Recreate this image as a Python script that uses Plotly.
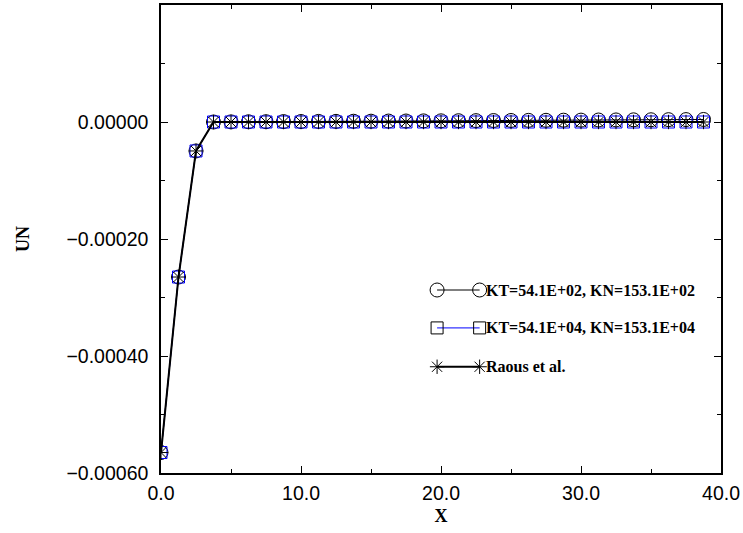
import plotly.graph_objects as go

x_vals = [0.0, 1.25, 2.5, 3.75, 5.0, 6.25, 7.5, 8.75, 10.0, 11.25, 12.5, 13.75,
          15.0, 16.25, 17.5, 18.75, 20.0, 21.25, 22.5, 23.75, 25.0, 26.25, 27.5,
          28.75, 30.0, 31.25, 32.5, 33.75, 35.0, 36.25, 37.5, 38.75]

un_kt_e02 = [-0.000565, -0.000265, -0.0000495, 0.0, 0.0000002, 0.0000004, 0.0000005,
             0.0000007, 0.0000008, 0.0000010, 0.0000011, 0.0000013, 0.0000014,
             0.0000016, 0.0000017, 0.0000019, 0.0000020, 0.0000022, 0.0000023,
             0.0000025, 0.0000026, 0.0000028, 0.0000029, 0.0000031, 0.0000032,
             0.0000034, 0.0000035, 0.0000037, 0.0000038, 0.0000040, 0.0000041,
             0.0000043]
un_kt_e04 = [-0.000565, -0.000265, -0.0000495, 0.0, 0.0, 0.0, 0.0, 0.0, 0.0, 0.0,
             0.0, 0.0, 0.0, 0.0, 0.0, 0.0, 0.0, 0.0, 0.0, 0.0, 0.0, 0.0, 0.0, 0.0,
             0.0, 0.0, 0.0, 0.0, 0.0, 0.0, 0.0, 0.0]
un_raous = [-0.000565, -0.000265, -0.0000495, 0.0, 0.0, 0.0, 0.0, 0.0, 0.0, 0.0,
            0.0, 0.0, 0.0, 0.0, 0.0, 0.0, 0.0, 0.0, 0.0, 0.0, 0.0, 0.0, 0.0, 0.0,
            0.0, 0.0, 0.0, 0.0, 0.0, 0.0, 0.0, 0.0]

names = ["KT=54.1E+02, KN=153.1E+02", "KT=54.1E+04, KN=153.1E+04", "Raous et al."]
x_ticks = [0, 10, 20, 30, 40]
x_tick_text = ["0.0", "10.0", "20.0", "30.0", "40.0"]
y_ticks = [-0.0006, -0.0004, -0.0002, 0.0]
y_tick_text = ["\u22120.00060", "\u22120.00040", "\u22120.00020", "0.00000"]

styles = [
    dict(symbol="circle-open", size=14, lcolor="black", lwidth=1),
    dict(symbol="square-open", size=12, lcolor="blue", lwidth=1),
    dict(symbol="asterisk-open", size=12, lcolor="black", lwidth=2),
]
series = [un_kt_e02, un_kt_e04, un_raous]

fig = go.Figure()
for ys, st, nm in zip(series, styles, names):
    mc = "blue" if st["symbol"] == "square-open" else "black"
    fig.add_trace(go.Scatter(
        x=x_vals, y=ys, mode="lines+markers", name=nm, showlegend=False,
        line=dict(color=st["lcolor"], width=st["lwidth"]),
        marker=dict(symbol=st["symbol"], size=st["size"],
                    line=dict(color=mc, width=1), color=mc),
    ))

# custom legend on overlay axes (0..1 coordinates of the plot area)
leg_rows = [0.391, 0.310, 0.227]
leg_x = [0.493, 0.569]
for row_y, st, nm in zip(leg_rows, styles, names):
    fig.add_trace(go.Scatter(
        x=leg_x, y=[row_y, row_y], xaxis="x2", yaxis="y2",
        mode="lines+markers", showlegend=False, hoverinfo="skip",
        line=dict(color=st["lcolor"], width=st["lwidth"]),
        marker=dict(symbol=st["symbol"], size=st["size"],
                    line=dict(color="black", width=1), color="black"),
    ))
    fig.add_annotation(
        x=0.576, y=row_y, xref="paper", yref="paper", text="<b>" + nm + "</b>",
        showarrow=False, xanchor="left", yanchor="middle",
        font=dict(family="Liberation Serif", size=16, color="black"),
    )

axis_common = dict(
    showgrid=False, zeroline=False, showline=True, linecolor="black", linewidth=1.5,
    mirror="ticks", ticks="inside", ticklen=7, tickwidth=1, tickcolor="black",
    tickfont=dict(family="Liberation Sans", size=19.5, color="black"),
)

fig.update_layout(
    width=743, height=533,
    margin=dict(l=161, r=20, t=3, b=60),
    paper_bgcolor="white", plot_bgcolor="white",
    xaxis=dict(
        range=[0, 40], tickvals=x_ticks, ticktext=x_tick_text,
        minor=dict(dtick=5, ticks="inside", ticklen=4, tickcolor="black"),
        title=dict(text="<b>X</b>", font=dict(family="Liberation Serif", size=18, color="black"),
                   standoff=6),
        ticklabelstandoff=2,
        **axis_common,
    ),
    yaxis=dict(
        range=[-0.0006, 0.0002], tickvals=y_ticks, ticktext=y_tick_text,
        minor=dict(dtick=0.0001, tick0=0, ticks="inside", ticklen=4, tickcolor="black"),
        title=dict(text="<b>UN</b>", font=dict(family="Liberation Serif", size=18, color="black"),
                   standoff=32),
        ticklabelstandoff=7,
        **axis_common,
    ),
    xaxis2=dict(range=[0, 1], overlaying="x", visible=False, fixedrange=True),
    yaxis2=dict(range=[0, 1], overlaying="y", visible=False, fixedrange=True),
    showlegend=False,
)

fig.write_html("out.html", config={"displayModeBar": False},
               post_script="document.body.style.margin='0';")
